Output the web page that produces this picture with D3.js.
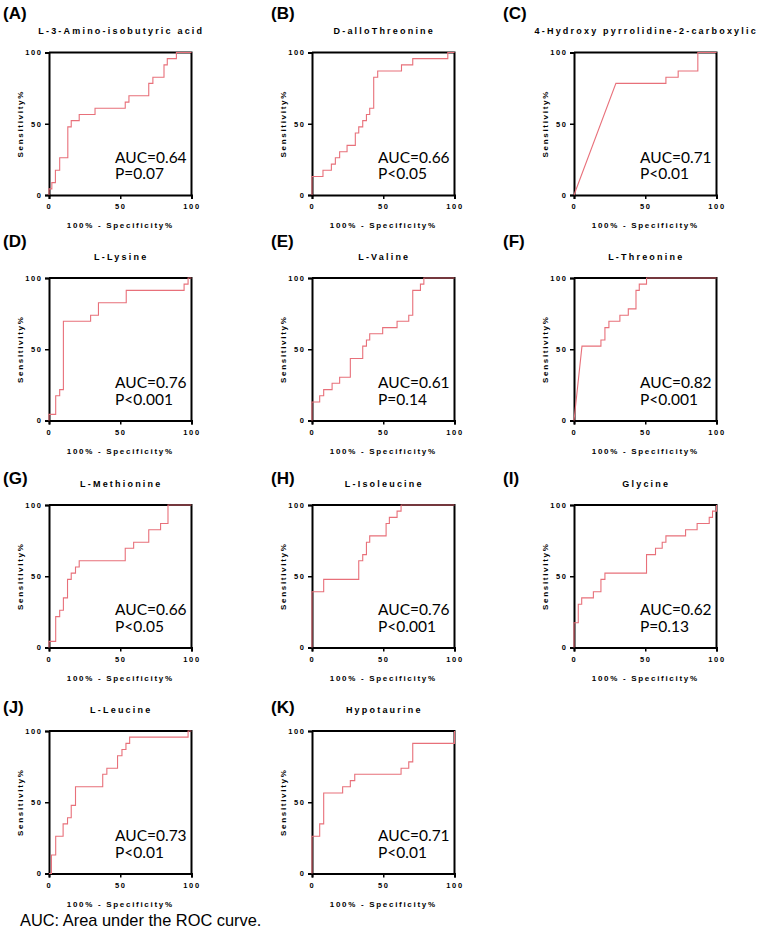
<!DOCTYPE html>
<html><head><meta charset="utf-8">
<script src="https://cdn.jsdelivr.net/npm/d3@7/dist/d3.min.js"></script>
<style>body{margin:0;background:#fff}</style>
</head><body>
<svg id="chart" width="761" height="930"></svg>
<script>
// ---------- data ----------
const panelLabels = ["(A)","(B)","(C)","(D)","(E)","(F)","(G)","(H)","(I)","(J)","(K)"];
const titles = ["L-3-Amino-isobutyric acid","D-alloThreonine","4-Hydroxy pyrrolidine-2-carboxylic",
  "L-Lysine","L-Valine","L-Threonine","L-Methionine","L-Isoleucine","Glycine","L-Leucine","Hypotaurine"];
const aucLabels = ["AUC=0.64","AUC=0.66","AUC=0.71","AUC=0.76","AUC=0.61","AUC=0.82","AUC=0.66","AUC=0.76","AUC=0.62","AUC=0.73","AUC=0.71"];
const pLabels = ["P=0.07","P<0.05","P<0.01","P<0.001","P=0.14","P<0.001","P<0.05","P<0.001","P=0.13","P<0.01","P<0.01"];
const xTicks = [0,50,100];
const yTicks = [0,50,100];
const xTitle = "100% - Specificity%";
const yTitle = "Sensitivity%";
const footnote = "AUC: Area under the ROC curve.";

// ROC step points: (100% - specificity, sensitivity) after each rise
const fprA = [0,0,2,4.5,7.5,13.2,15.6,21.2,32.3,53.5,56.1,70,72.9,80.7,83,89.4,100];
const tprA = [0,4.3,8.7,17.4,26.1,47.8,52.2,56.5,60.9,65.2,69.6,78.3,82.6,91.3,95.7,100,100];
const fprB = [0,0,7.7,13.6,16.4,19.4,24.6,30.4,32.8,35.6,38.2,40.5,43.3,46.1,62.8,70.7,95.3,100];
const tprB = [0,13,17.4,21.7,26.1,30.4,34.8,43.5,47.8,52.2,56.5,60.9,82.6,87,91.3,95.7,100,100];
const fprC = [0,29.4,64.5,73.1,86.9,100];
const tprC = [0,78.3,82.6,87,100,100];
const fprD = [0,0,4.7,7.5,10.1,29.2,34.7,54.2,94.8,97.6,100];
const tprD = [0,4.3,17.4,21.7,69.6,73.9,82.6,91.3,95.7,100,100];
const fprE = [0,0,5.4,8.2,14.1,19.4,26.9,35.6,38.2,40.5,49.6,59.7,67.9,70.7,76.1,78.5,100];
const tprE = [0,13,17.4,21.7,26.1,30.4,43.5,52.2,56.5,60.9,65.2,69.6,73.9,91.3,95.7,100,100];
const fprF = [0,5.6,18.9,21.7,24.5,32.2,38.1,43.5,45.8,50.9,100];
const tprF = [0,52.2,56.5,65.2,69.6,73.9,78.3,91.3,95.7,100,100];
const fprG = [0,0,4.7,7.5,10.1,13,15.6,18.6,21.2,53.5,59.4,70,78.3,83.5,100];
const tprG = [0,4.3,21.7,26.1,34.8,47.8,52.2,56.5,60.9,69.6,73.9,82.6,87,100,100];
const fprH = [0,0,8.2,32.8,35.6,38.2,40.5,52,54.3,59.7,62.5,100];
const tprH = [0,39.1,47.8,60.9,65.2,73.9,78.3,87,91.3,95.7,100,100];
const fprI = [0,0,3,5.4,13.6,18.9,21.7,50.9,57.2,61.9,64.5,78.3,86.4,94.9,97.2,100];
const tprI = [0,17.4,30.4,34.8,39.1,47.8,52.2,65.2,69.6,73.9,78.3,82.6,87,91.3,95.7,100];
const fprJ = [0,1.7,4.7,9.9,13,15.6,18.6,37.7,40.6,48.1,51.2,54,56.6,97.6,100];
const tprJ = [0,13,26.1,34.8,39.1,47.8,60.9,69.6,73.9,82.6,87,91.3,95.7,100,100];
const fprK = [0,0,5.4,8.2,21.5,26.9,30,62.5,67.9,70.7,100];
const tprK = [0,26.1,34.8,56.5,60.9,65.2,69.6,73.9,78.3,91.3,100];
// first segment drawn as a straight line (C and F), otherwise steps
const diagonalStart = [false,false,true,false,false,true,false,false,false,false,false];

const fprs = [fprA,fprB,fprC,fprD,fprE,fprF,fprG,fprH,fprI,fprJ,fprK];
const tprs = [tprA,tprB,tprC,tprD,tprE,tprF,tprG,tprH,tprI,tprJ,tprK];

// ---------- layout ----------
const colX = [49, 312, 574];
const rowY = [52.5, 278, 505, 731];
const S = 142.5;
const labelX = [3, 271, 503];
const labelBase = [19, 247, 484, 713];
const lineColor = "#e8707a";

const svg = d3.select("#chart");

titles.forEach((t, i) => {
  const col = i % 3, row = Math.floor(i / 3);
  const x0 = colX[col], y0 = rowY[row];
  const x = d3.scaleLinear().domain([0, 100]).range([x0, x0 + S]);
  const y = d3.scaleLinear().domain([0, 100]).range([y0 + S, y0]);
  const g = svg.append("g");

  // panel letter
  g.append("text").attr("x", labelX[col]).attr("y", labelBase[row])
    .attr("font-family", "Liberation Sans, Arial, sans-serif")
    .attr("font-weight", "bold").attr("font-size", 17).text(panelLabels[i]);

  // title
  g.append("text").attr("x", x0 + S / 2 + 1).attr("y", y0 - 18.5)
    .attr("text-anchor", "middle")
    .attr("font-family", "Liberation Sans, Arial, sans-serif")
    .attr("font-weight", "bold").attr("font-size", 9)
    .attr("letter-spacing", "2.2px").text(t);

  // frame top/right
  g.append("path")
    .attr("d", `M${x(0)},${y(100)}H${x(100)}V${y(0)}`)
    .attr("fill", "none").attr("stroke", "#000").attr("stroke-width", 2);

  // axes
  const ax = g.append("g").attr("transform", `translate(0,${y0 + S})`)
    .call(d3.axisBottom(x).tickValues(xTicks).tickSize(4).tickPadding(5).tickFormat(d3.format("d")));
  const ay = g.append("g").attr("transform", `translate(${x0},0)`)
    .call(d3.axisLeft(y).tickValues(yTicks).tickSize(4).tickPadding(4).tickFormat(d3.format("d")));
  [ax, ay].forEach(a => {
    a.select(".domain").attr("stroke", "#000").attr("stroke-width", 2);
    a.selectAll(".tick line").attr("stroke", "#000").attr("stroke-width", 1.5);
    a.selectAll(".tick text").attr("font-family", "Liberation Sans, Arial, sans-serif")
      .attr("font-weight", "bold").attr("font-size", 7.5).attr("letter-spacing", "1.6px").attr("fill", "#000");
  });
  ay.selectAll(".tick text").attr("dx", "1.6px");

  // axis titles
  g.append("text").attr("x", x0 + S / 2).attr("y", y0 + S + 33)
    .attr("text-anchor", "middle")
    .attr("font-family", "Liberation Sans, Arial, sans-serif")
    .attr("font-weight", "bold").attr("font-size", 8)
    .attr("letter-spacing", "1.7px").text(xTitle);
  g.append("text")
    .attr("transform", `translate(${x0 - 26},${y0 + S / 2}) rotate(-90)`)
    .attr("text-anchor", "middle")
    .attr("font-family", "Liberation Sans, Arial, sans-serif")
    .attr("font-weight", "bold").attr("font-size", 8)
    .attr("letter-spacing", "1.7px").text(yTitle);

  // ROC curve
  const fx = fprs[i], ty = tprs[i];
  const pts = [[fx[0], ty[0]]];
  for (let k = 1; k < fx.length; k++) {
    if (k === 1 && diagonalStart[i]) { pts.push([fx[k], ty[k]]); continue; }
    pts.push([fx[k], ty[k - 1]]);
    pts.push([fx[k], ty[k]]);
  }
  const line = d3.line().x(d => x(d[0])).y(d => y(d[1]));
  g.append("path").attr("d", line(pts)).attr("fill", "none")
    .attr("stroke", lineColor).attr("stroke-width", 1.1);

  // AUC and P text
  g.append("text").attr("x", x0 + 66).attr("y", y0 + S - 32.5)
    .attr("font-family", "Lato, Open Sans, sans-serif").attr("font-size", 15.5).text(aucLabels[i]);
  g.append("text").attr("x", x0 + 66).attr("y", y0 + S - 16)
    .attr("font-family", "Lato, Open Sans, sans-serif").attr("font-size", 15.5).text(pLabels[i]);
});

svg.append("text").attr("x", 20).attr("y", 926)
  .attr("font-family", "Liberation Sans, Arial, sans-serif").attr("font-size", 16.4)
  .text(footnote);
</script>
</body></html>
